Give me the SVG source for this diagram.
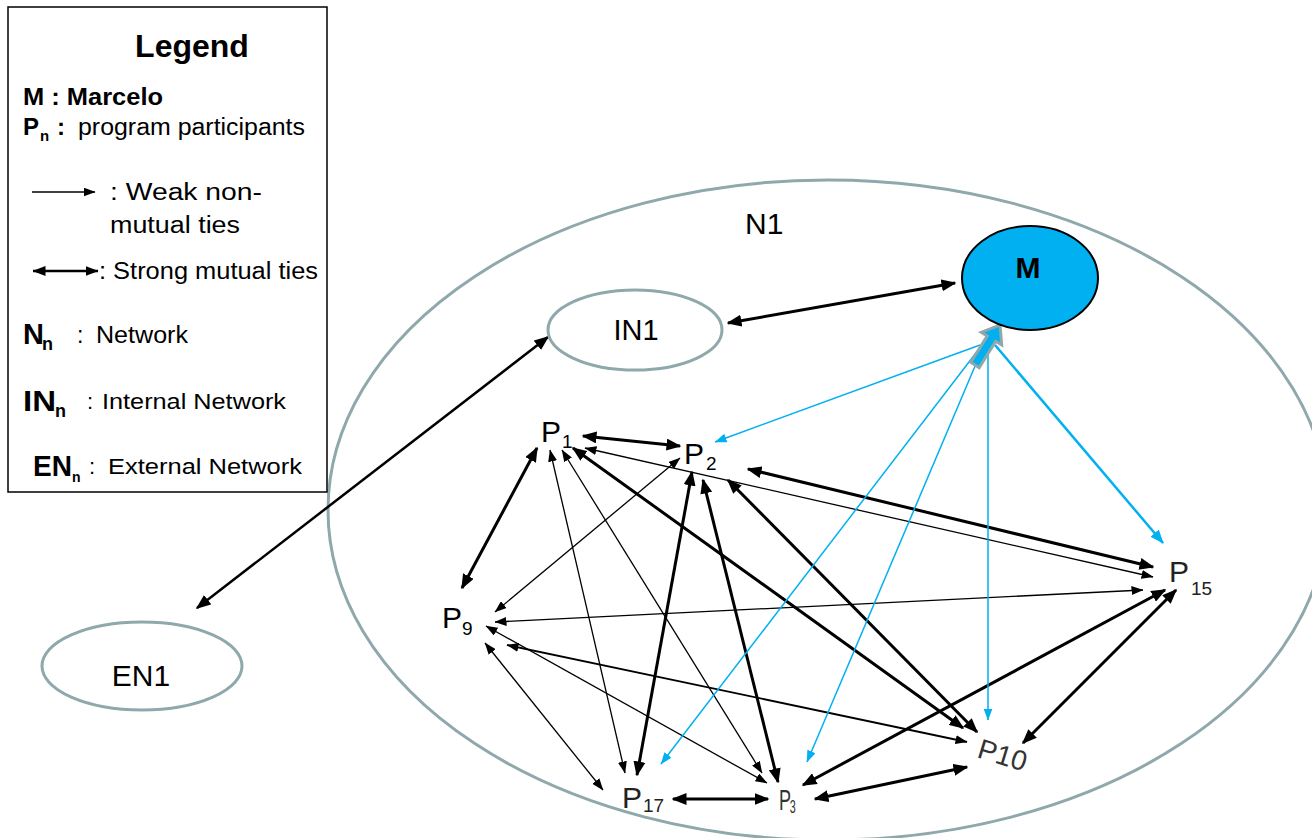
<svg xmlns="http://www.w3.org/2000/svg" width="1312" height="838" viewBox="0 0 1312 838">
<style>
text{font-family:"Liberation Sans",Arial,sans-serif;fill:#000}
.net{fill:#fff;stroke:#8FA8AB;stroke-width:3}
.thk{stroke:#000;stroke-width:3;fill:none;marker-start:url(#aT);marker-end:url(#aT)}
.thn{stroke:#000;stroke-width:1.3;fill:none;marker-start:url(#a);marker-end:url(#a)}
.blu{stroke:#00B0F0;stroke-width:1.5;fill:none;marker-end:url(#ab)}
.bluT{stroke:#00B0F0;stroke-width:2.5;fill:none;marker-end:url(#abT)}
.pl{font-size:30px}
.ps{font-size:19px}
.lg{font-size:23px}
.lgb{font-size:24px;font-weight:bold}
.nb{font-size:29px;font-weight:bold}
</style>
<defs>
<marker id="aT" viewBox="0 0 15 12" refX="13.5" refY="6" markerWidth="15" markerHeight="12" markerUnits="userSpaceOnUse" orient="auto-start-reverse"><path d="M0,0 L15,6 L0,12 z" fill="#000"/></marker>
<marker id="a" viewBox="0 0 12 9" refX="11.5" refY="4.5" markerWidth="12" markerHeight="9" markerUnits="userSpaceOnUse" orient="auto-start-reverse"><path d="M0,0 L12,4.5 L0,9 z" fill="#000"/></marker>
<marker id="aL" viewBox="0 0 13 10" refX="12.5" refY="5" markerWidth="13" markerHeight="10" markerUnits="userSpaceOnUse" orient="auto-start-reverse"><path d="M0,0 L13,5 L0,10 z" fill="#000"/></marker>
<marker id="ab" viewBox="0 0 12 9" refX="11.5" refY="4.5" markerWidth="12" markerHeight="9" markerUnits="userSpaceOnUse" orient="auto-start-reverse"><path d="M0,0 L12,4.5 L0,9 z" fill="#00B0F0"/></marker>
<marker id="abT" viewBox="0 0 14 11" refX="13" refY="5.5" markerWidth="14" markerHeight="11" markerUnits="userSpaceOnUse" orient="auto-start-reverse"><path d="M0,0 L14,5.5 L0,11 z" fill="#00B0F0"/></marker>
</defs>

<g id="N1">
<ellipse cx="828" cy="510" rx="500" ry="330" fill="none" stroke="#8FA8AB" stroke-width="3"/>
<text x="745" y="234" font-size="30">N1</text>
</g>

<g id="legend">
<rect x="8" y="7" width="319" height="485" fill="#fff" stroke="#000" stroke-width="1.5"/>
<text x="192" y="57" font-size="32" font-weight="bold" text-anchor="middle">Legend</text>
<text x="23" y="105" class="lgb" textLength="140" lengthAdjust="spacingAndGlyphs">M : Marcelo</text>
<text x="23" y="135" class="lgb">P</text>
<text x="40" y="141" font-size="15" font-weight="bold">n</text>
<text x="57" y="135" class="lgb">:</text>
<text x="78" y="135" class="lg" textLength="227" lengthAdjust="spacingAndGlyphs">program participants</text>
<line x1="32" y1="192" x2="95" y2="192" stroke="#000" stroke-width="1.3" marker-end="url(#a)"/>
<text x="110" y="200" class="lg" textLength="152" lengthAdjust="spacingAndGlyphs">: Weak non-</text>
<text x="110" y="233" class="lg" textLength="130" lengthAdjust="spacingAndGlyphs">mutual  ties</text>
<line x1="33" y1="271" x2="98" y2="271" stroke="#000" stroke-width="2.5" marker-start="url(#aL)" marker-end="url(#aL)"/>
<text x="99" y="279" class="lg" textLength="219" lengthAdjust="spacingAndGlyphs">: Strong mutual ties</text>
<text x="23" y="344" class="nb">N</text>
<text x="42" y="350" font-size="18" font-weight="bold">n</text>
<text x="77" y="343" class="lg">:</text>
<text x="96" y="343" class="lg" textLength="92" lengthAdjust="spacingAndGlyphs">Network</text>
<text x="23" y="411" class="nb" textLength="33" lengthAdjust="spacingAndGlyphs">IN</text>
<text x="55" y="417" font-size="18" font-weight="bold">n</text>
<text x="87" y="409" font-size="22">:</text>
<text x="102" y="409" font-size="22" textLength="184" lengthAdjust="spacingAndGlyphs">Internal Network</text>
<text x="33" y="476" class="nb" textLength="39" lengthAdjust="spacingAndGlyphs">EN</text>
<text x="72" y="482" font-size="14" font-weight="bold">n</text>
<text x="89" y="474" font-size="22">:</text>
<text x="108" y="474" font-size="22" textLength="194" lengthAdjust="spacingAndGlyphs">External Network</text>
</g>

<g id="connectors">
<line class="thk" x1="728" y1="323" x2="955" y2="283"/>
<line class="thk" x1="548" y1="337" x2="197" y2="608" style="stroke-width:2.5"/>
<line class="thk" x1="583" y1="436" x2="680" y2="446"/>
<line class="thk" x1="537" y1="448" x2="462" y2="588"/>
<line class="thk" x1="573" y1="448" x2="963" y2="728"/>
<line class="thk" x1="692" y1="472" x2="637" y2="775"/>
<line class="thk" x1="703" y1="480" x2="778" y2="782"/>
<line class="thk" x1="728" y1="480" x2="977" y2="732"/>
<line class="thk" x1="748" y1="469" x2="1153" y2="567"/>
<line class="thk" x1="673" y1="799" x2="768" y2="799"/>
<line class="thk" x1="815" y1="799" x2="967" y2="767"/>
<line class="thk" x1="803" y1="785" x2="1165" y2="590"/>
<line class="thk" x1="1023" y1="743" x2="1176" y2="590"/>
<line class="thn" x1="585" y1="448" x2="1153" y2="577"/>
<line class="thn" x1="550" y1="450" x2="625" y2="773"/>
<line class="thn" x1="562" y1="450" x2="762" y2="773"/>
<line class="thn" x1="680" y1="458" x2="495" y2="612"/>
<line class="thn" x1="495" y1="622" x2="1143" y2="590"/>
<line class="thn" x1="507" y1="645" x2="967" y2="742" style="stroke-width:1.8"/>
<line class="thn" x1="486" y1="626" x2="767" y2="783"/>
<line class="thn" x1="485" y1="643" x2="603" y2="790"/>
<line class="blu" x1="980" y1="345" x2="715" y2="442"/>
<line class="blu" x1="982" y1="345" x2="661" y2="764"/>
<line class="blu" x1="984" y1="345" x2="807" y2="762"/>
<line class="blu" x1="988" y1="345" x2="988" y2="720"/>
<line class="bluT" x1="995" y1="345" x2="1163" y2="543"/>
<polygon points="979.2,367.7 995.7,341.3 1001.7,345 1000,325 981.3,332.2 987.3,335.9 970.8,362.3" fill="#00B0F0" stroke="#8FA8AB" stroke-width="3" stroke-linejoin="miter"/>
</g>

<g id="M">
<ellipse cx="1030" cy="278" rx="68" ry="52" fill="#00B0F0" stroke="#000" stroke-width="2"/>
<text x="1028" y="278" font-size="30" font-weight="bold" text-anchor="middle">M</text>
</g>
<g id="IN1">
<ellipse class="net" cx="635" cy="330" rx="87" ry="40"/>
<text x="636" y="340" font-size="29" text-anchor="middle">IN1</text>
</g>
<g id="EN1">
<ellipse class="net" cx="142" cy="666" rx="100" ry="44"/>
<text x="141" y="686" font-size="30" text-anchor="middle">EN1</text>
</g>
<g id="P1"><text x="541" y="442" class="pl">P</text><text x="562" y="448" class="ps">1</text></g>
<g id="P2"><text x="684" y="464" class="pl">P</text><text x="706" y="470" class="ps">2</text></g>
<g id="P9"><text x="442" y="628" class="pl">P</text><text x="462" y="635" class="ps">9</text></g>
<g id="P15"><text x="1169" y="582" class="pl" style="fill:#222">P</text><text x="1191" y="595" class="ps" style="fill:#222">15</text></g>
<g id="P17"><text x="622" y="808" class="pl" style="fill:#222">P</text><text x="643" y="812" class="ps" style="fill:#222">17</text></g>
<g id="P3"><g transform="translate(779,810) scale(0.6,1)"><text x="0" y="0" class="pl" style="fill:#333">P</text><text x="18" y="3" font-size="18" style="fill:#333">3</text></g></g>
<g id="P10"><text x="976" y="757" font-size="28" transform="rotate(17 976 757)" style="fill:#333">P10</text></g>
</svg>
